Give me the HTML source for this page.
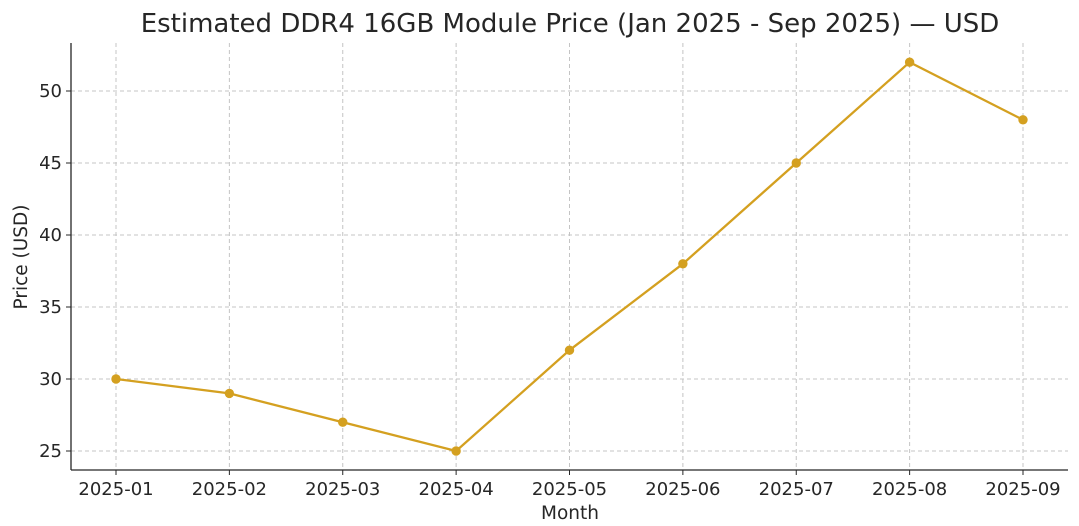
<!DOCTYPE html>
<html><head><meta charset="utf-8"><style>
body{margin:0;background:#fff;}
svg text{font-family:"DejaVu Sans","Liberation Sans",sans-serif;fill:#262626;}
</style></head><body>
<svg id="chart" width="1079" height="521" xmlns="http://www.w3.org/2000/svg">
<text x="570" y="32" font-size="26" text-anchor="middle">Estimated DDR4 16GB Module Price (Jan 2025 - Sep 2025) — USD</text>
<g id="grid"></g><g id="axes"></g><g id="series"></g>
<text x="570" y="519" font-size="18.5" text-anchor="middle">Month</text>
<text transform="translate(27,257) rotate(-90)" font-size="18.5" text-anchor="middle">Price (USD)</text>
</svg>
<script>
const categories=["2025-01","2025-02","2025-03","2025-04","2025-05","2025-06","2025-07","2025-08","2025-09"];
const prices=[30,29,27,25,32,38,45,52,48];
const yTicks=[25,30,35,40,45,50];
const NS="http://www.w3.org/2000/svg";
const L=71,R=1068,T=43,B=470;
function x(i){return 116+i*(1023-116)/(categories.length-1);}
function y(v){return 451-(v-25)*(451-91)/25;}
function mk(t,a,p){const e=document.createElementNS(NS,t);for(const k in a)e.setAttribute(k,a[k]);p.appendChild(e);return e;}
const grid=document.getElementById('grid'),axes=document.getElementById('axes'),ser=document.getElementById('series');
categories.forEach((c,i)=>{
 const g=mk('line',{x1:x(i),x2:x(i),y1:T,y2:B,stroke:'#c4c4c4','stroke-dasharray':'4,3','stroke-width':1},grid);
 
 
 const tk=mk('line',{x1:x(i),x2:x(i),y1:B,y2:B+5,stroke:'#262626'},axes);
 
 
 const t=mk('text',{x:x(i),y:B+25,'font-size':18,'text-anchor':'middle'},axes);t.textContent=c;
 
 
});
yTicks.forEach(v=>{
 const g=mk('line',{x1:L,x2:R,y1:y(v),y2:y(v),stroke:'#c4c4c4','stroke-dasharray':'4,3','stroke-width':1},grid);
 
 
 const tk=mk('line',{x1:L-5,x2:L,y1:y(v),y2:y(v),stroke:'#262626'},axes);
 
 
 const t=mk('text',{x:L-9,y:y(v)+6,'font-size':18,'text-anchor':'end'},axes);t.textContent=v;
 
 
});
const ys=mk('line',{x1:L,x2:L,y1:T,y2:B,stroke:'#262626','stroke-width':1.3},axes);


const xs=mk('line',{x1:L,x2:R,y1:B,y2:B,stroke:'#262626','stroke-width':1.3},axes);


const pl=mk('polyline',{points:prices.map((v,i)=>x(i)+','+y(v)).join(' '),fill:'none',stroke:'#d4a020','stroke-width':2.3},ser);


prices.forEach((v,i)=>{
 const c=mk('circle',{cx:x(i),cy:y(v),r:4.7,fill:'#d4a020'},ser);
 
 
});
</script>
</body></html>
